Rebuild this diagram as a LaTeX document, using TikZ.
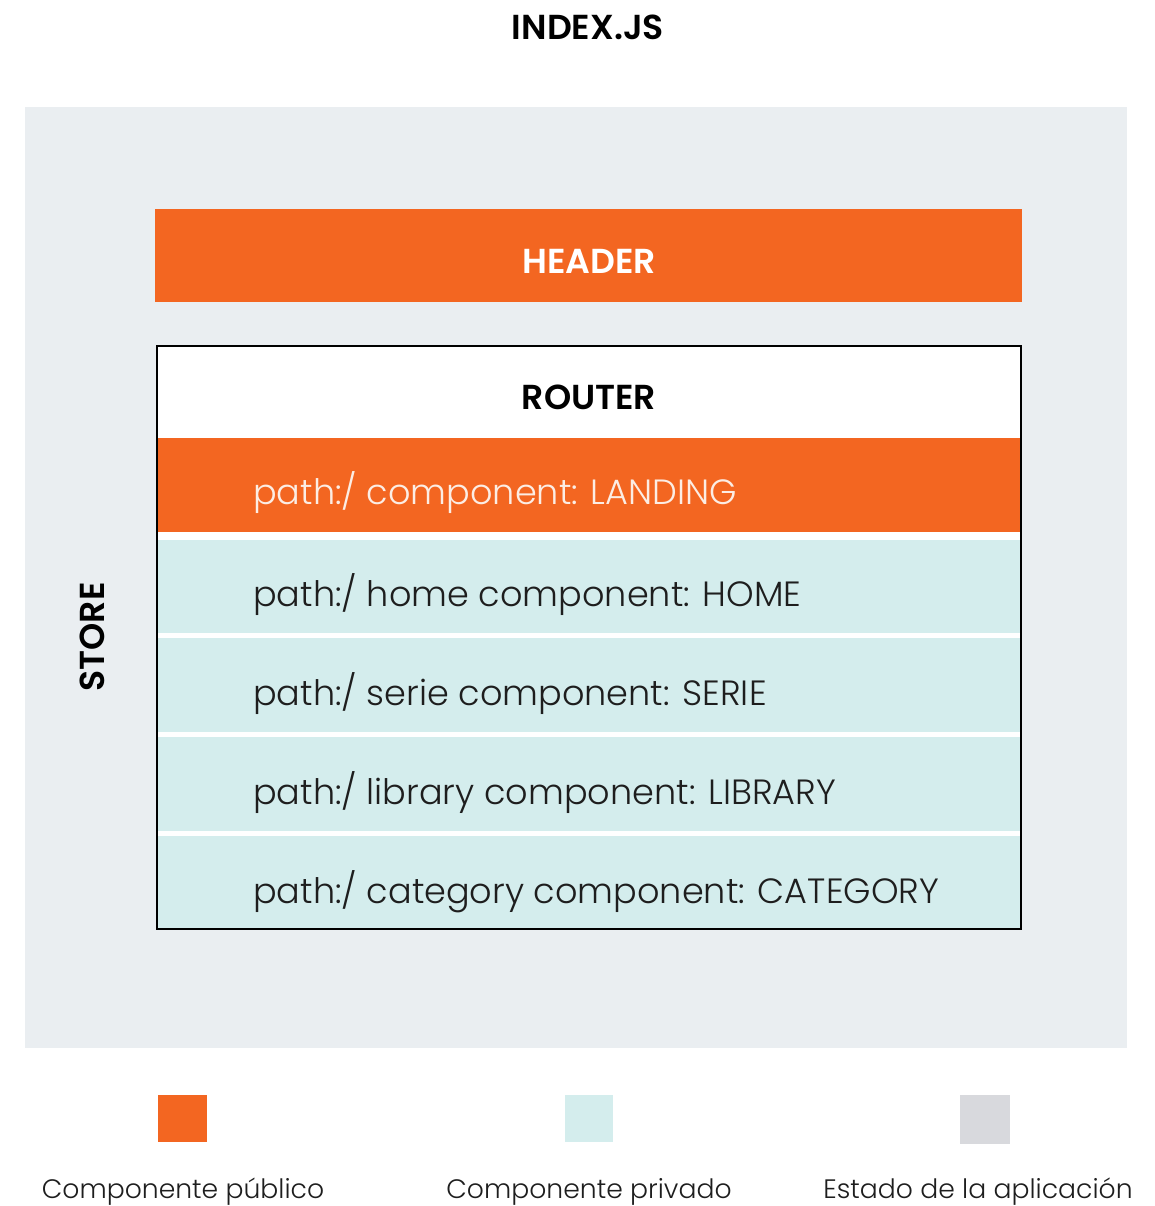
\documentclass[tikz,border=0pt]{standalone}
\usepackage{fontspec}
\IfFontExistsTF{Poppins Light}{%
  \IfFontExistsTF{Poppins SemiBold}{%
    \setmainfont{Poppins Light}[BoldFont=Poppins SemiBold]}{%
    \setmainfont{Poppins Light}[BoldFont=Poppins Bold]}%
}{\setmainfont{Poppins}}
\definecolor{pubOrange}{HTML}{F36621}
\definecolor{privTeal}{HTML}{D4EDED}
\definecolor{stateGray}{HTML}{D8D9DD}
\definecolor{panelGray}{HTML}{EAEEF1}
\definecolor{inkDark}{HTML}{1E1E1E}
\definecolor{paleText}{HTML}{FCEDE4}
\tikzset{
  boldlabel/.style={font=\fontsize{26pt}{30pt}\selectfont\bfseries, text=black, inner sep=0pt},
  rowlabel/.style={font=\fontsize{26.3pt}{30pt}\selectfont, text=inkDark, inner sep=0pt, anchor=base west},
  legendlabel/.style={font=\fontsize{20pt}{24pt}\selectfont, text=inkDark, inner sep=0pt, anchor=base},
}
\begin{document}
\begin{tikzpicture}[x=0.75pt,y=-0.75pt]
  % page
  \fill[white] (0,0) rectangle (1154,1206);
  \useasboundingbox (0,0) rectangle (1154,1206);

  % title
  \node[boldlabel, anchor=base] (title) at (588,40) {INDEX.JS};

  % store panel
  \fill[panelGray] (25,107) rectangle (1127,1048);
  \node[boldlabel, rotate=90] (store) at (92,637) {STORE};

  % header bar
  \fill[pubOrange] (155,209) rectangle (1022,302);
  \node[boldlabel, text=white, anchor=base] (header) at (589,273) {HEADER};

  % router block
  \fill[white] (157,346) rectangle (1021,929);
  \node[boldlabel, anchor=base] (router) at (589,409) {ROUTER};
  \fill[pubOrange] (157,438) rectangle (1021,532);
  \fill[privTeal] (157,540) rectangle (1021,633);
  \fill[privTeal] (157,638) rectangle (1021,732);
  \fill[privTeal] (157,737) rectangle (1021,831);
  \fill[privTeal] (157,836) rectangle (1021,929);
  \draw[black, line width=2pt] (157,346) rectangle (1021,929);

  \node[rowlabel, text=paleText] (landing) at (253,504) {path:/ component: LANDING};
  \node[rowlabel] (home) at (253,606) {path:/ home component: HOME};
  \node[rowlabel] (serie) at (253,705) {path:/ serie component: SERIE};
  \node[rowlabel] (library) at (253,804) {path:/ library component: LIBRARY};
  \node[rowlabel] (category) at (253,903) {path:/ category component: CATEGORY};

  % legend
  \fill[pubOrange] (158,1095) rectangle (207,1142);
  \fill[privTeal] (565,1095) rectangle (613,1142);
  \fill[stateGray] (960,1095) rectangle (1010,1144);
  \node[legendlabel] (lgpub) at (183,1198) {Componente público};
  \node[legendlabel] (lgpriv) at (589,1198) {Componente privado};
  \node[legendlabel] (lgstate) at (978,1198) {Estado de la aplicación};
\end{tikzpicture}
\end{document}
